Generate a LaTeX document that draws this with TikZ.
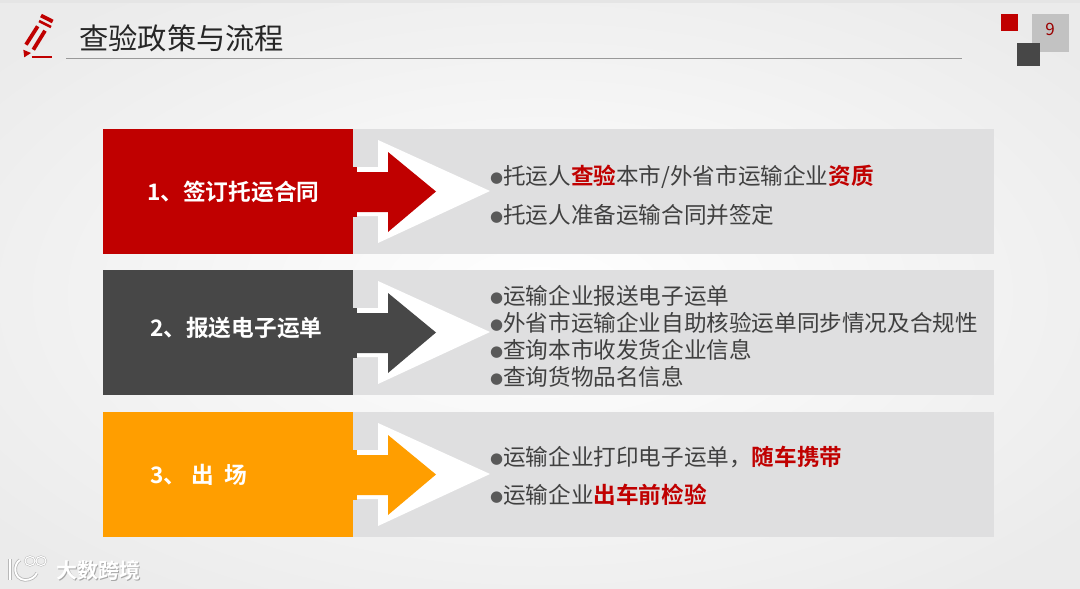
\documentclass[tikz,border=0pt]{standalone}
\usepackage{fontspec}
\setmainfont{Noto Sans CJK SC}[BoldFont={Noto Sans CJK SC Bold}]
\newfontfamily\djv{DejaVu Sans}
\definecolor{hlred}{HTML}{C00000}
\definecolor{band}{HTML}{DFDFE0}
\definecolor{txt}{HTML}{404040}
\definecolor{darkbox}{HTML}{474747}
\definecolor{amber}{HTML}{FF9E00}
\definecolor{bgedge}{HTML}{EBEBEB}
\newcommand{\bul}{\raisebox{2.5pt}{\djv\fontsize{15}{15}\selectfont\textcolor{black!65}{●}}}
\newcommand{\hl}[1]{\textcolor{hlred}{\textbf{#1}}}
\tikzset{
  headbox/.style={draw=none,minimum width=250pt,minimum height=125pt,anchor=north west,inner sep=0pt},
  steptext/.style={text=white,font=\fontsize{22.7}{25}\selectfont\bfseries,anchor=west,inner sep=0pt},
  itemtext/.style={text=txt,font=\fontsize{22.6}{26}\selectfont,anchor=west,inner sep=0pt},
  wmtext/.style={text=white,font=\fontsize{21}{24}\selectfont\bfseries,inner sep=0pt,anchor=west},
  pen/.style={draw=hlred,line width=3.8pt},
}
\newcommand{\flowrow}[3]{%
  \fill[band] (353,#1) rectangle (994,#1+125);
  \node[headbox,fill=#2] (#3) at (103,#1) {};
  \fill[white] (353,#1+38) -- (378,#1+38) -- (378,#1+11) -- (490,#1+62) -- (378,#1+114) -- (378,#1+87) -- (353,#1+87) -- cycle;
  \fill[#2] (353,#1+43) -- (388,#1+43) -- (388,#1+23) -- (436,#1+62.5) -- (388,#1+103) -- (388,#1+83) -- (353,#1+83) -- cycle;
  \fill[#2] (353,#1+38) rectangle (357,#1+88);
}
\newcommand{\logomark}[2]{%
  \draw[#1,line width=#2] (10,559) -- (10,580);
  \draw[#1,line width=#2] (20,560) .. controls (13,564) and (13,579) .. (25,580) .. controls (31,580) and (35,577) .. (37,573);
  \draw[#1,line width=#2*0.6] (30,561) ellipse (5 and 4.5);
  \draw[#1,line width=#2*0.6] (41,561) ellipse (5 and 4.5);
}
\begin{document}
\begin{tikzpicture}[x=1pt,y=-1pt]
\useasboundingbox (0,0) rectangle (1080,589);
\shade[inner color=white,outer color=bgedge] (-160,-80) rectangle (1240,669);
\fill[black!10] (0,0) rectangle (1080,3);
% pencil icon
\draw[pen] (37.7,26.3) -- (26,44.7);
\draw[pen] (45,30.7) -- (33.3,49.7);
\draw[pen] (41,15.5) -- (52.7,21.5);
\draw[pen,line width=2.6pt] (39,21) -- (51,27);
\fill[hlred] (23.3,49.7) -- (31,53) -- (24.3,57.3) -- cycle;
\draw[hlred,line width=2pt] (31.7,57.3) -- (52.3,57.3);
% title
\node[anchor=west,inner sep=0pt,text=black!85,font=\fontsize{29.3}{32}\selectfont] (title) at (79,38) {查验政策与流程};
\draw[black!40,line width=0.8pt] (66,58) -- (962,58);
% page mark
\node[fill=black!24,minimum width=37pt,minimum height=38pt,inner sep=0pt] (pagebox) at (1050.5,33) {};
\node[text=hlred!80!black,font=\fontsize{17}{17}\selectfont,inner sep=0pt] (pagenum) at (1050,29) {9};
\node[fill=hlred,minimum size=17pt,inner sep=0pt] (redsq) at (1009.5,22.5) {};
\node[fill=darkbox,minimum width=23pt,minimum height=23pt,inner sep=0pt] (darksq) at (1028.5,54.5) {};
% rows
\flowrow{129}{hlred}{rowa}
\flowrow{270}{darkbox}{rowb}
\flowrow{412}{amber}{rowc}
\node[steptext] (la) at (147,192) {1、签订托运合同};
\node[steptext] (lb) at (150,328) {2、报送电子运单};
\node[steptext] (lc) at (150,475) {3、 出\ \ 场};
% items
\node[itemtext] (a1) at (490,177) {\bul 托运人\hl{查验}本市/外省市运输企业\hl{资质}};
\node[itemtext] (a2) at (490,215) {\bul 托运人准备运输合同并签定};
\node[itemtext] (b1) at (490,296) {\bul 运输企业报送电子运单};
\node[itemtext] (b2) at (490,323) {\bul 外省市运输企业自助核验运单同步情况及合规性};
\node[itemtext] (b3) at (490,350) {\bul 查询本市收发货企业信息};
\node[itemtext] (b4) at (490,377) {\bul 查询货物品名信息};
\node[itemtext] (c1) at (490,457) {\bul 运输企业打印电子运单，\hl{随车携带}};
\node[itemtext] (c2) at (490,495) {\bul 运输企业\hl{出车前检验}};
% watermark
\logomark{black!28}{3.4pt}
\logomark{white}{1.8pt}
\node[wmtext,text=black!35] (wms) at (57,571) {大数跨境};
\node[wmtext] (wm) at (56,570) {大数跨境};
\end{tikzpicture}
\end{document}
